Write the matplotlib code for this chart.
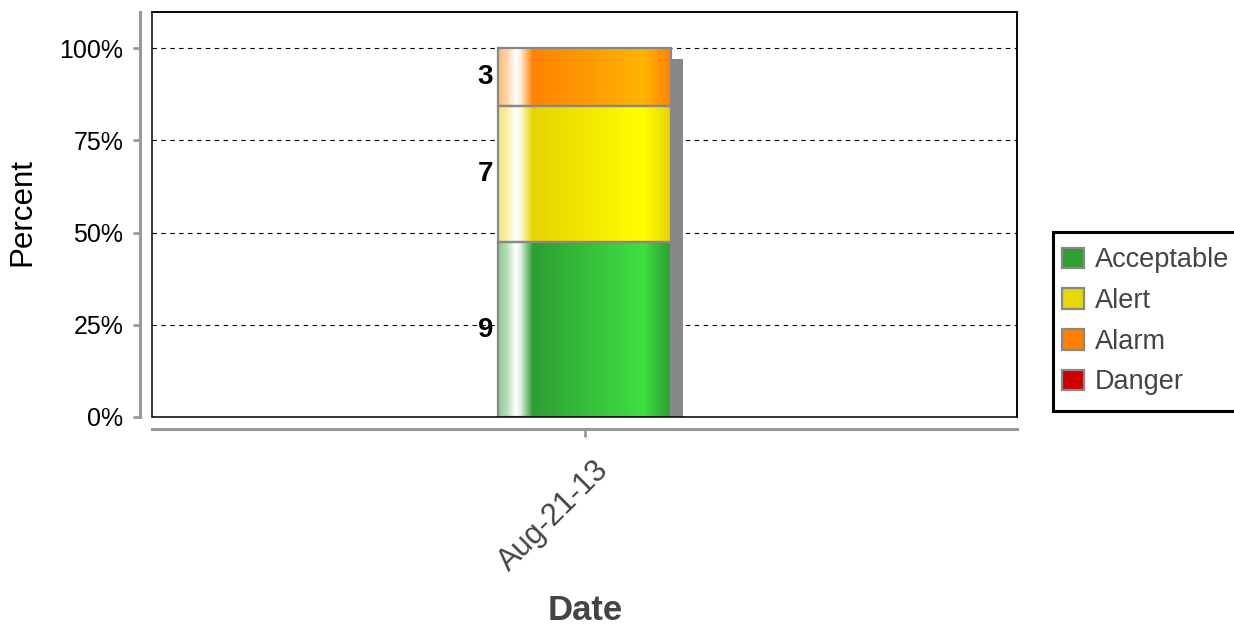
import matplotlib.pyplot as plt
import matplotlib.patheffects as pe
import numpy as np
from matplotlib.colors import LinearSegmentedColormap, to_rgb
from matplotlib.patches import Patch, Rectangle
from matplotlib.path import Path

plt.rcParams['font.family'] = ['Liberation Sans', 'DejaVu Sans']

dates = ['Aug-21-13']
levels = ['Acceptable', 'Alert', 'Alarm', 'Danger']
acceptable = [9]
alert = [7]
alarm = [3]
danger = [0]

# flat colours (legend) and gradient ends (bars)
flat_colors = ['#31a032', '#e6d800', '#ff8000', '#cc0000']
dark_colors = ['#2e9e32', '#e6d400', '#ff8200', '#c40000']
bright_colors = ['#3ee040', '#ffff00', '#ffb400', '#ff2020']


def bar_cmap(dark, bright):
    d = np.array(to_rgb(dark))
    b = np.array(to_rgb(bright))
    w = np.ones(3)
    stops = [(0.0, d * 0.55 + w * 0.45), (0.05, d * 0.35 + w * 0.65),
             (0.1, w), (0.13, w * 0.85 + d * 0.15), (0.2, d),
             (0.84, b), (1.0, d)]
    return LinearSegmentedColormap.from_list('grad', stops)


def tall_box(x0, y0, width, height, mutation_size):
    # legend frame with a bit more room above and below than at the sides
    e = 6
    return Path.unit_rectangle().transformed(
        plt.matplotlib.transforms.Affine2D().scale(width, height + 2 * e).translate(x0, y0 - e))


series = np.array([acceptable, alert, alarm, danger], dtype=float)
totals = series.sum(axis=0)
pct = series / totals * 100

fig = plt.figure(figsize=(12.34, 6.39), dpi=100)
ax = fig.add_axes([152 / 1234, 1 - 417 / 639, 865 / 1234, 405 / 639])

x = np.arange(len(dates))
width = 0.2

# shadow behind the whole stack
ax.bar(x, pct.sum(axis=0), width, color='white', linewidth=0, zorder=1,
       path_effects=[pe.SimplePatchShadow(offset=(8.6, -7.9), shadow_rgbFace='#888888', alpha=1.0),
                     pe.Normal()])

grad = np.linspace(0, 1, 256).reshape(1, -1)
bottom = np.zeros(len(dates))
for i, name in enumerate(levels):
    vals = pct[i]
    if vals.sum() == 0:
        bottom += vals
        continue
    bars = ax.bar(x, vals, width, bottom=bottom, facecolor='none',
                  edgecolor='#888888', linewidth=1.6, zorder=3)
    cmap = bar_cmap(dark_colors[i], bright_colors[i])
    for p, v, cnt in zip(bars.patches, vals, series[i]):
        if v <= 0:
            continue
        im = ax.imshow(grad, extent=[p.get_x(), p.get_x() + p.get_width(), p.get_y(), p.get_y() + p.get_height()],
                       aspect='auto', cmap=cmap, interpolation='bilinear', zorder=2)
        im.set_clip_path(p)
        ax.annotate('%d' % cnt, (p.get_x(), p.get_y() + p.get_height() / 2),
                    xytext=(-3.6, 0), textcoords='offset points', ha='right', va='center',
                    fontsize=20, fontweight='bold', color='black')
    bottom += vals

ax.set_xlim(-0.5, 0.5)
ax.set_ylim(0, 109.8)
ax.set_yticks([0, 25, 50, 75, 100])
ax.set_yticklabels(['0%', '25%', '50%', '75%', '100%'])
ax.set_xticks(x)
ax.set_xticklabels([''] * len(dates))

ax.set_axisbelow(True)
ax.yaxis.grid(True, linestyle=(0, (4, 4)), color='black', linewidth=0.8)
ax.xaxis.grid(False)

for side in ['left', 'bottom']:
    ax.spines[side].set_position(('outward', 8.6))
    ax.spines[side].set_color('#999999')
    ax.spines[side].set_linewidth(2.2)
for side in ['top', 'right']:
    ax.spines[side].set_color('black')
    ax.spines[side].set_linewidth(1.1)
ax.add_patch(Rectangle((0, 0), 1, 1, transform=ax.transAxes, fill=False,
                       edgecolor='black', linewidth=1.1, zorder=5, clip_on=False))

ax.tick_params(axis='y', color='#999999', width=2, length=5, pad=7, labelsize=18, labelcolor='black')
ax.tick_params(axis='x', color='#999999', width=2, length=6)

for xi, d in zip(x, dates):
    ax.annotate(d, (xi, 0), xycoords=('data', 'axes fraction'), xytext=(14.5, -35),
                textcoords='offset points', rotation=45, rotation_mode='anchor',
                ha='right', va='center', fontsize=22, color='#444444', annotation_clip=False)

fig.text(22 / 1234, 1 - 212 / 639, 'Percent', rotation=90, ha='center', va='center',
         fontsize=22.5, color='black')
fig.text(585 / 1234, 1 - 610 / 639, 'Date', ha='center', va='center',
         fontsize=25, fontweight='bold', color='#444444')

handles = [Patch(facecolor=c, edgecolor='#888888', linewidth=1.6) for c in flat_colors]
leg = fig.legend(handles, levels, loc='upper left', bbox_to_anchor=(1053 / 1234, 1 - 238 / 639),
                 borderaxespad=0, fontsize=19.5, labelcolor='#444444', frameon=True, fancybox=False,
                 framealpha=1, edgecolor='black', handlelength=0.8, handleheight=0.8,
                 handletextpad=0.4, labelspacing=0.54, borderpad=0.35)
leg.get_frame().set_linewidth(2.2)
leg.get_frame().set_boxstyle(tall_box)

fig.savefig('out.png', dpi=100)
